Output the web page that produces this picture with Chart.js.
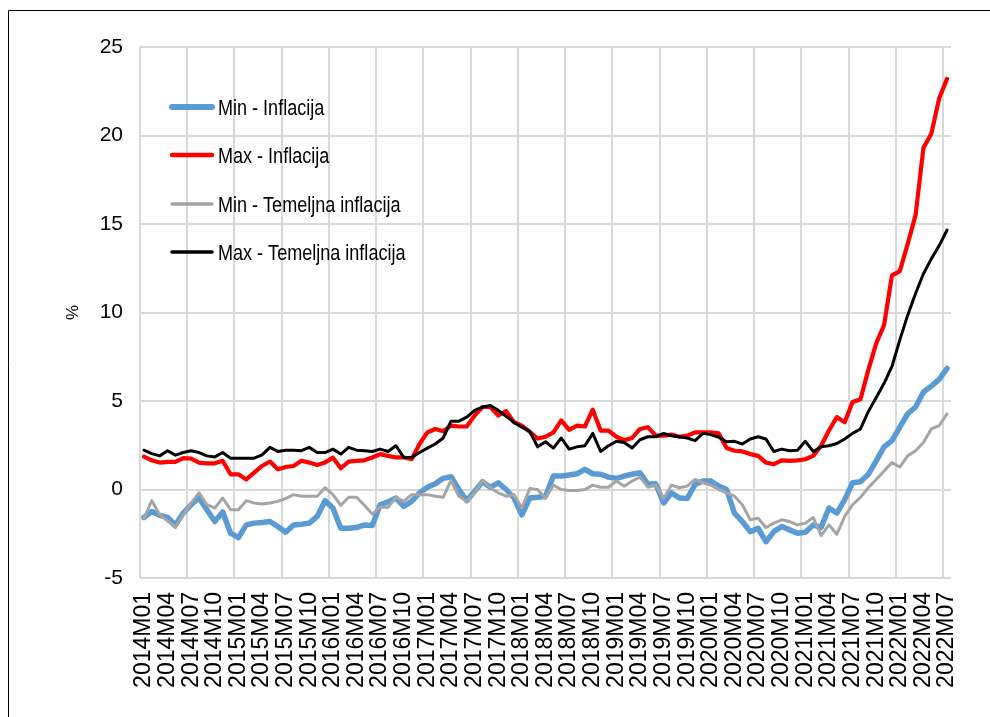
<!DOCTYPE html>
<html>
<head>
<meta charset="utf-8">
<title>Inflacija - min i max</title>
<script src="https://cdn.jsdelivr.net/npm/chart.js@4.4.1/dist/chart.umd.min.js"></script>
<style>
  html, body { margin: 0; padding: 0; background: #fff; }
  canvas { display: block; }
</style>
</head>
<body>
<canvas id="inflationChart" width="990" height="717"></canvas>
<script>
// monthly categories 2014M01 .. 2022M07
const years = [2014, 2015, 2016, 2017, 2018, 2019, 2020, 2021, 2022];
const lastMonthOfLastYear = 7;
const months = [];
years.forEach((year, yi) => {
  const maxMonth = yi === years.length - 1 ? lastMonthOfLastYear : 12;
  for (let m = 1; m <= maxMonth; m++) {
    months.push(year + "M" + String(m).padStart(2, "0"));
  }
});

const yTickValues = [-5, 0, 5, 10, 15, 20, 25];

const minInflacija = [
  -1.58, -1.24, -1.46, -1.58, -2.0, -1.33, -0.86, -0.48, -1.14, -1.81, -1.27, -2.47,
  -2.72, -2.0, -1.9, -1.86, -1.81, -2.09, -2.41, -2.0, -1.96, -1.9, -1.52, -0.63,
  -1.05, -2.19, -2.19, -2.15, -2.0, -2.03, -0.86, -0.7, -0.48, -0.95, -0.67, -0.19,
  0.13, 0.32, 0.63, 0.72, 0.0, -0.63, -0.1, 0.44, 0.13, 0.38, 0.0, -0.48,
  -1.43, -0.48, -0.44, -0.38, 0.76, 0.76, 0.82, 0.89, 1.14, 0.89, 0.86, 0.7,
  0.63, 0.76, 0.86, 0.95, 0.29, 0.32, -0.76, -0.19, -0.48, -0.51, 0.29, 0.48,
  0.48, 0.19, 0.0, -1.33, -1.81, -2.38, -2.19, -2.95, -2.38, -2.09, -2.28, -2.47,
  -2.41, -2.0, -2.15, -1.05, -1.33, -0.57, 0.38, 0.44, 0.86, 1.62, 2.41, 2.76,
  3.52, 4.28, 4.66, 5.51, 5.84, 6.22, 6.84
];

const maxInflacija = [
  1.86, 1.65, 1.52, 1.56, 1.56, 1.77, 1.75, 1.52, 1.48, 1.48, 1.62, 0.86,
  0.86, 0.57, 0.95, 1.33, 1.58, 1.14, 1.27, 1.33, 1.62, 1.52, 1.39, 1.52,
  1.8, 1.2, 1.58, 1.62, 1.65, 1.81, 2.0, 1.9, 1.81, 1.81, 1.71, 2.57,
  3.23, 3.42, 3.29, 3.61, 3.56, 3.56, 4.18, 4.66, 4.66, 4.18, 4.43, 3.8,
  3.61, 3.25, 2.88, 2.98, 3.23, 3.9, 3.37, 3.61, 3.56, 4.51, 3.33, 3.33,
  2.98, 2.79, 2.91, 3.42, 3.52, 3.04, 3.04, 3.1, 2.98, 3.04, 3.23, 3.23,
  3.23, 3.17, 2.34, 2.19, 2.15, 2.0, 1.9, 1.52, 1.43, 1.65, 1.62, 1.65,
  1.71, 1.9, 2.47, 3.33, 4.09, 3.8, 4.94, 5.1, 6.76, 8.26, 9.29, 12.1,
  12.34, 13.88, 15.5, 19.3, 20.1, 22.1, 23.2
];

const minTemeljna = [
  -1.62, -0.63, -1.43, -1.77, -2.15, -1.43, -0.76, -0.19, -0.86, -1.05, -0.48, -1.14,
  -1.14, -0.63, -0.76, -0.82, -0.76, -0.67, -0.51, -0.29, -0.38, -0.38, -0.38, 0.1,
  -0.29, -0.89, -0.44, -0.44, -0.89, -1.39, -1.0, -1.0, -0.44, -0.67, -0.29, -0.29,
  -0.29, -0.38, -0.44, 0.51, -0.38, -0.67, -0.19, 0.51, 0.1, -0.19, -0.38, -0.29,
  -1.05, 0.05, 0.0, -0.51, 0.25, 0.0, -0.06, -0.06, 0.0, 0.25, 0.13, 0.13,
  0.48, 0.19, 0.48, 0.7, 0.13, 0.25, -0.51, 0.25, 0.1, 0.19, 0.57, 0.38,
  0.25, 0.0, -0.19, -0.38, -0.86, -1.71, -1.62, -2.15, -1.9, -1.71, -1.81, -2.0,
  -1.9, -1.58, -2.6, -2.0, -2.53, -1.52, -0.86, -0.44, 0.1, 0.57, 1.05, 1.52,
  1.27, 1.9, 2.19, 2.66, 3.42, 3.61, 4.28
];

const maxTemeljna = [
  2.22, 2.03, 1.9, 2.19, 1.94, 2.09, 2.19, 2.09, 1.9, 1.84, 2.09, 1.77,
  1.77, 1.77, 1.77, 1.96, 2.38, 2.15, 2.22, 2.22, 2.19, 2.38, 2.09, 2.09,
  2.28, 2.0, 2.38, 2.22, 2.19, 2.15, 2.28, 2.15, 2.47, 1.81, 1.81, 2.09,
  2.34, 2.57, 2.91, 3.86, 3.86, 4.09, 4.47, 4.66, 4.75, 4.47, 4.13, 3.8,
  3.52, 3.29, 2.41, 2.7, 2.34, 2.91, 2.28, 2.41, 2.47, 3.17, 2.15, 2.47,
  2.72, 2.66, 2.34, 2.81, 2.98, 2.98, 3.17, 3.04, 2.98, 2.91, 2.76, 3.17,
  3.1, 2.95, 2.7, 2.72, 2.57, 2.85, 2.98, 2.85, 2.15, 2.28, 2.19, 2.22,
  2.72, 2.15, 2.41, 2.47, 2.6, 2.85, 3.17, 3.42, 4.4, 5.2, 6.0, 6.95,
  8.45, 9.85, 11.07, 12.19, 13.03, 13.78, 14.66
];

const gridColor = "#d9d9d9";

// legend drawn inside the plot, like the original
const legendRows = [
  { y: 107, width: 6 },
  { y: 155, width: 4.5 },
  { y: 204, width: 3.5 },
  { y: 252, width: 3.5 },
];

const insideLegend = {
  id: "insideLegend",
  afterDraw(chart) {
    const ctx = chart.ctx;
    ctx.save();
    chart.data.datasets.forEach((ds, i) => {
      const row = legendRows[i];
      ctx.strokeStyle = ds.borderColor;
      ctx.lineWidth = row.width;
      ctx.lineCap = "round";
      ctx.beginPath();
      ctx.moveTo(172, row.y);
      ctx.lineTo(212, row.y);
      ctx.stroke();

      ctx.save();
      ctx.translate(218, row.y + 7.7);
      ctx.scale(0.82, 1);
      ctx.font = "22px 'Liberation Sans', Arial, sans-serif";
      ctx.fillStyle = "#000";
      ctx.textBaseline = "alphabetic";
      ctx.textAlign = "left";
      ctx.fillText(ds.label, 0, 0);
      ctx.restore();
    });
    ctx.restore();
  }
};

const frame = {
  id: "frame",
  afterDraw(chart) {
    const ctx = chart.ctx;
    ctx.save();
    ctx.strokeStyle = "#000";
    ctx.lineWidth = 1;
    ctx.beginPath();
    ctx.moveTo(8.5, 717);
    ctx.lineTo(8.5, 10.5);
    ctx.lineTo(990, 10.5);
    ctx.stroke();
    ctx.restore();
  }
};

const lineStyle = {
  fill: false,
  tension: 0,
  pointRadius: 0,
  borderJoinStyle: "round",
  borderCapStyle: "round",
};

new Chart(document.getElementById("inflationChart"), {
  type: "line",
  data: {
    labels: months,
    datasets: [
      { label: "Min - Inflacija", data: minInflacija, borderColor: "#5b9bd5", borderWidth: 5.5, order: 4, ...lineStyle },
      { label: "Max - Inflacija", data: maxInflacija, borderColor: "#ff0000", borderWidth: 4.2, order: 3, ...lineStyle },
      { label: "Min - Temeljna inflacija", data: minTemeljna, borderColor: "#a5a5a5", borderWidth: 3, order: 2, ...lineStyle },
      { label: "Max - Temeljna inflacija", data: maxTemeljna, borderColor: "#000000", borderWidth: 3, order: 1, ...lineStyle },
    ],
  },
  options: {
    responsive: false,
    animation: false,
    devicePixelRatio: 1,
    layout: { padding: { left: 0, top: 47, right: 39, bottom: 0 } },
    plugins: {
      legend: { display: false },
      tooltip: { enabled: false },
    },
    scales: {
      x: {
        offset: true,
        border: { display: false },
        grid: {
          offset: true,
          drawTicks: false,
          lineWidth: 2,
          color: (ctx) => (ctx.index % 6 === 0 ? gridColor : "rgba(0,0,0,0)"),
        },
        ticks: {
          autoSkip: false,
          maxRotation: 90,
          minRotation: 90,
          padding: 14,
          color: "#000",
          font: { family: "'Liberation Sans', Arial, sans-serif", size: 23 },
          callback: function (value, index) {
            return index % 3 === 0 ? this.getLabelForValue(value) : "";
          },
        },
        afterFit: (scale) => { scale.height = 139; },
      },
      y: {
        min: -5,
        max: 25,
        border: { display: false },
        grid: { color: gridColor, lineWidth: 2, drawTicks: false },
        ticks: {
          padding: 17,
          color: "#000",
          font: { family: "'Liberation Sans', Arial, sans-serif", size: 21 },
        },
        afterBuildTicks: (scale) => {
          scale.ticks = yTickValues.map((v) => ({ value: v }));
        },
        title: {
          display: true,
          text: "%",
          color: "#000",
          font: { family: "'Liberation Sans', Arial, sans-serif", size: 17 },
          padding: { top: 63, bottom: 0 },
        },
        afterFit: (scale) => { scale.width = 140; },
      },
    },
  },
  plugins: [insideLegend, frame],
});
</script>
</body>
</html>
